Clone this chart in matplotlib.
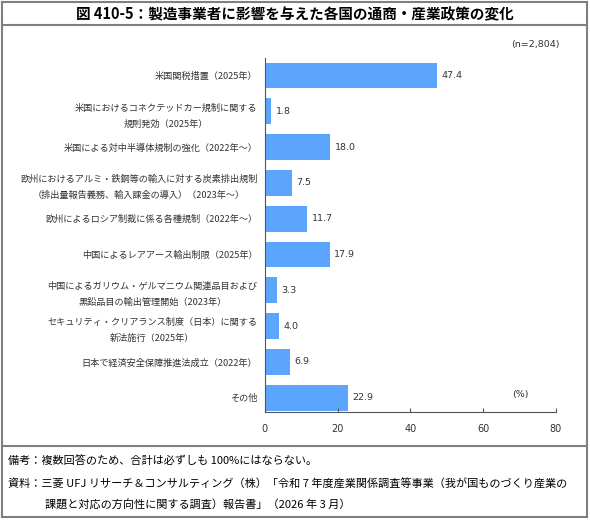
import matplotlib
matplotlib.use("Agg")
import matplotlib.pyplot as plt
from matplotlib.lines import Line2D

plt.rcParams['font.family'] = ['Noto Sans CJK JP', 'DejaVu Sans']

# data
labels = [
    "米国関税措置（2025年）",
    "米国におけるコネクテッドカー規制に関する\n規則発効（2025年）",
    "米国による対中半導体規制の強化（2022年～）",
    "欧州におけるアルミ・鉄鋼等の輸入に対する炭素排出規制\n（排出量報告義務、輸入課金の導入）（2023年～）",
    "欧州によるロシア制裁に係る各種規制（2022年～）",
    "中国によるレアアース輸出制限（2025年）",
    "中国によるガリウム・ゲルマニウム関連品目および\n黒鉛品目の輸出管理開始（2023年）",
    "セキュリティ・クリアランス制度（日本）に関する\n新法施行（2025年）",
    "日本で経済安全保障推進法成立（2022年）",
    "その他",
]
values = [47.4, 1.8, 18.0, 7.5, 11.7, 17.9, 3.3, 4.0, 6.9, 22.9]
xticks = [0, 20, 40, 60, 80]

title = "図 410-5：製造事業者に影響を与えた各国の通商・産業政策の変化"
note1 = "備考：複数回答のため、合計は必ずしも 100%にはならない。"
note2 = "資料：三菱 UFJ リサーチ＆コンサルティング（株）「令和 7 年度産業関係調査等事業（我が国ものづくり産業の"
note3 = "課題と対応の方向性に関する調査）報告書」（2026 年 3 月）"

bar_color = "#5ba5ff"
text_color = "#333333"

fig = plt.figure(figsize=(5.9, 5.2), dpi=100)
ax = fig.add_axes([0.449, 0.2077, 0.4932, 0.6808])

pos = list(range(len(values)))
ax.barh(pos, values, height=0.72, color=bar_color)
for p, v in zip(pos, values):
    ax.text(v + 1.2, p, f"{v:.1f}", va="center", ha="left",
            fontsize=6.8, color=text_color, family="DejaVu Sans")

ax.set_ylim(9.40, -0.49)
ax.set_xlim(0, 80)
ax.set_xticks(xticks)
ax.set_xticklabels([str(t) for t in xticks], fontsize=7, color=text_color,
                   family="DejaVu Sans")
ax.tick_params(axis="x", direction="in", length=3, color="#555555", pad=9)
ax.set_yticks(pos)
ax.set_yticklabels(labels, fontsize=6.6, color=text_color,
                   multialignment="center", linespacing=2.0)
ax.tick_params(axis="y", length=0, pad=5.5)
for s in ["top", "right"]:
    ax.spines[s].set_visible(False)
for s in ["left", "bottom"]:
    ax.spines[s].set_color("#555555")
    ax.spines[s].set_linewidth(0.8)

ax.text(70.2, 8.9, "(%)", ha="center", va="center", fontsize=6.8,
        color=text_color, family="DejaVu Sans")
fig.text(0.949, 0.915, "(n=2,804)", ha="right", va="center", fontsize=6.8,
         color=text_color, family="DejaVu Sans")

# frame, title row and note row
border = "#7f7f7f"
x0, x1 = 2 / 590, 587 / 590
y0, y1 = 1 - 517 / 520, 1 - 2 / 520
for xs, ys in [([x0, x1], [y1, y1]), ([x0, x1], [y0, y0]),
               ([x0, x0], [y0, y1]), ([x1, x1], [y0, y1]),
               ([x0, x1], [1 - 25 / 520] * 2), ([x0, x1], [1 - 446 / 520] * 2)]:
    fig.add_artist(Line2D(xs, ys, transform=fig.transFigure, color=border, lw=1.5))

fig.text(0.5, 1 - 14 / 520, title, ha="center", va="center", fontsize=10.5,
         fontweight="bold", color="black")
fig.text(8 / 590, 1 - 461 / 520, note1, ha="left", va="center", fontsize=8, color="black")
fig.text(8 / 590, 1 - 483 / 520, note2, ha="left", va="center", fontsize=8, color="black")
fig.text(45 / 590, 1 - 505 / 520, note3, ha="left", va="center", fontsize=8, color="black")

fig.savefig("out.png", dpi=100, facecolor="white")
